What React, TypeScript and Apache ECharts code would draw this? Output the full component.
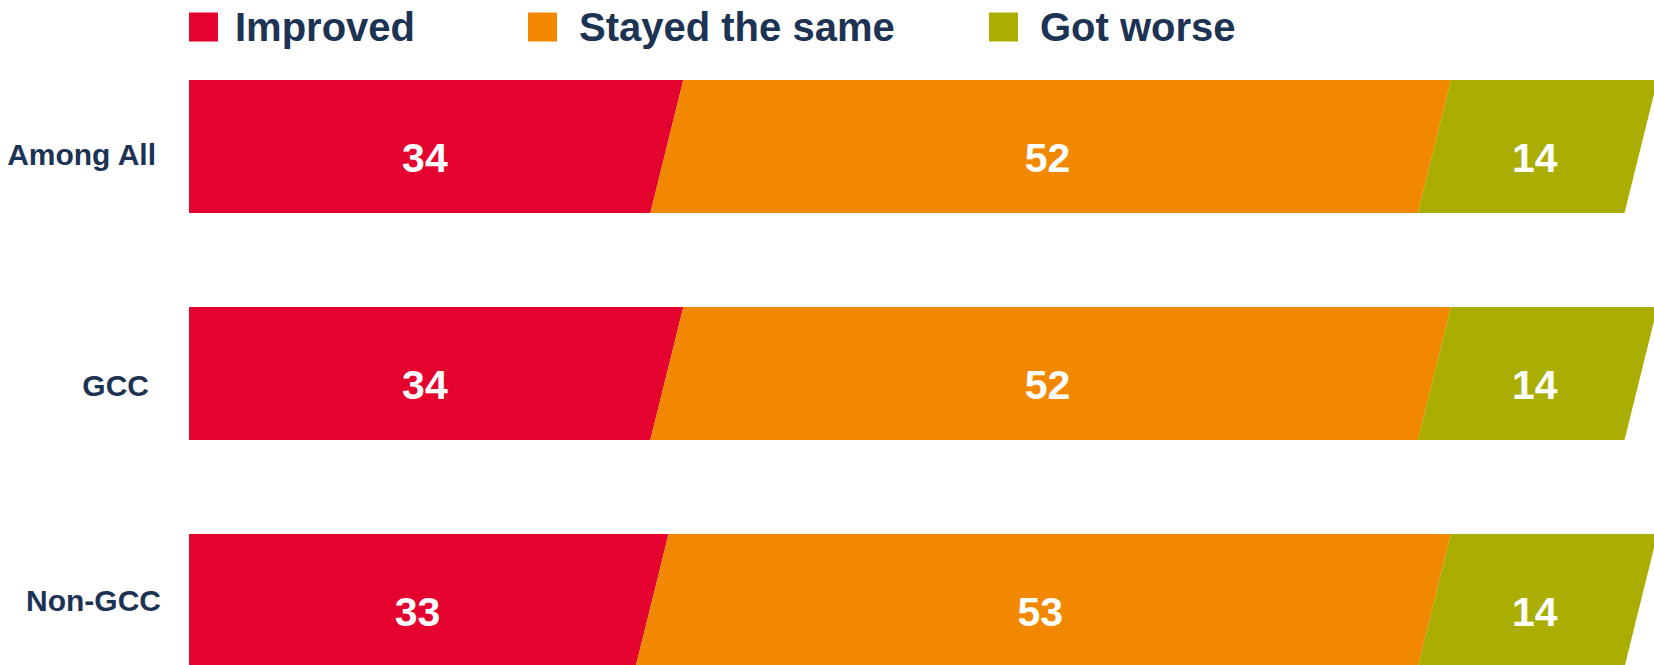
import React, { useEffect, useRef } from "react";
import * as echarts from "echarts";

const categories = ["Among All", "GCC", "Non-GCC"];
const improved = [34, 34, 33];
const stayedSame = [52, 52, 53];
const gotWorse = [14, 14, 14];
const seriesNames = ["Improved", "Stayed the same", "Got worse"];

const COLORS = ["#E4032E", "#F18800", "#AAAE03"];
const NAVY = "#1D3354";
const FONT = "'Liberation Sans', Arial, Helvetica, sans-serif";

const PLOT_LEFT = 189; // visible left edge of bars (clip)
const BAR_RATIO = 133 / 227; // bar height / band height
const SHEAR = 33 / 133; // horizontal offset per unit of bar height
const LABEL_DY = 11;
const LABEL_DX = -3;

export default function App() {
  const ref = useRef<HTMLDivElement>(null);

  useEffect(() => {
    document.body.style.margin = "0";
    const chart = echarts.init(ref.current!, undefined, { renderer: "svg" });

    const valueSets = [improved, stayedSame, gotWorse];
    const seriesData = valueSets.map((vals, s) =>
      vals.map((v, i) => {
        let start = 0;
        for (let k = 0; k < s; k++) start += valueSets[k][i];
        return [start, start + v, i, v];
      })
    );

    const renderItem = (params: any, api: any) => {
      const start = api.value(0);
      const end = api.value(1);
      const cat = api.value(2);
      const val = api.value(3);
      const p0 = api.coord([start, cat]);
      const p1 = api.coord([end, cat]);
      const band = api.size([0, 1])[1];
      const h = band * BAR_RATIO;
      const shift = (h * SHEAR) / 2;
      const yTop = p0[1] - h / 2;
      const yBot = p0[1] + h / 2;
      const ltx = start === 0 ? PLOT_LEFT : p0[0] + shift;
      const lbx = start === 0 ? PLOT_LEFT : p0[0] - shift;
      const rtx = p1[0] + shift;
      const rbx = p1[0] - shift;
      const leftMid = start === 0 ? PLOT_LEFT : p0[0];
      const cx = (leftMid + p1[0]) / 2 + LABEL_DX;
      return {
        type: "group",
        children: [
          {
            type: "polygon",
            shape: {
              points: [
                [ltx, yTop],
                [rtx, yTop],
                [rbx, yBot],
                [lbx, yBot],
              ],
            },
            style: { fill: api.visual("color") },
          },
          {
            type: "text",
            x: cx,
            y: p0[1] + LABEL_DY,
            style: {
              text: String(val),
              fill: "#FFFFFF",
              font: `bold 41px ${FONT}`,
              align: "center",
              verticalAlign: "middle",
              textAlign: "center",
              textVerticalAlign: "middle",
            },
          },
        ],
      };
    };

    const legendBase = {
      orient: "horizontal",
      top: 7,
      padding: 0,
      itemWidth: 29,
      itemHeight: 29,
      icon: "rect",
      selectedMode: false,
    };
    const legendText = (padLeft: number) => ({
      fontSize: 40,
      fontWeight: "bold",
      color: NAVY,
      fontFamily: FONT,
      padding: [0, 0, 0, padLeft],
    });

    const labelRich: any = {
      c0: { fontSize: 30, fontWeight: "bold", color: NAVY, fontFamily: FONT, padding: [15, 5, 0, 0] },
      c1: { fontSize: 30, fontWeight: "bold", color: NAVY, fontFamily: FONT, padding: [24, 12, 0, 0] },
      c2: { fontSize: 30, fontWeight: "bold", color: NAVY, fontFamily: FONT, padding: [0, 0, 0, 0] },
    };

    chart.setOption({
      animation: false,
      backgroundColor: "#FFFFFF",
      legend: [
        { ...legendBase, left: 189, data: [seriesNames[0]], textStyle: legendText(12) },
        { ...legendBase, left: 528, data: [seriesNames[1]], textStyle: legendText(17) },
        { ...legendBase, left: 989, data: [seriesNames[2]], textStyle: legendText(17) },
      ],
      grid: {
        left: 165,
        top: 33,
        width: 1476,
        height: 681,
        containLabel: false,
        outerBoundsMode: "none",
      },
      xAxis: {
        type: "value",
        min: 0,
        max: 100,
        show: false,
      },
      yAxis: {
        type: "category",
        data: categories,
        inverse: true,
        axisLine: { show: false },
        axisTick: { show: false },
        splitLine: { show: false },
        axisLabel: {
          margin: 4,
          fontSize: 30,
          fontWeight: "bold",
          color: NAVY,
          fontFamily: FONT,
          formatter: (v: string, i: number) => `{c${i}|${v}}`,
          rich: labelRich,
        },
      },
      series: seriesNames.map((name, s) => ({
        name,
        type: "custom",
        renderItem,
        itemStyle: { color: COLORS[s] },
        encode: { x: [0, 1], y: 2 },
        data: seriesData[s],
      })),
    });

    return () => chart.dispose();
  }, []);

  return <div ref={ref} style={{ width: 1654, height: 665 }} />;
}
